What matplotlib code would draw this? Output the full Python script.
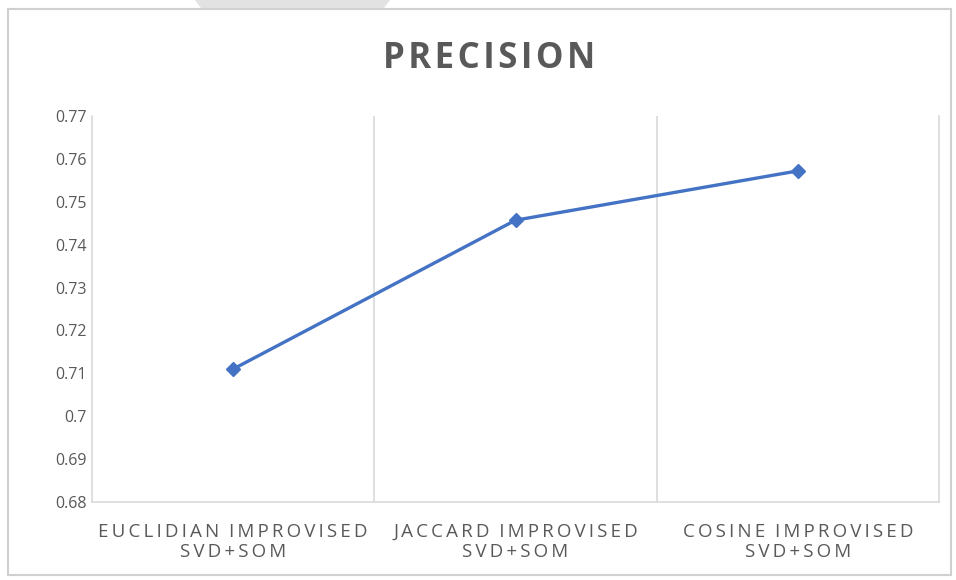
import matplotlib
matplotlib.use("Agg")
import matplotlib.pyplot as plt
from matplotlib.patches import Rectangle, Polygon

# Data
categories = ["EUCLIDIAN IMPROVISED\nSVD+SOM",
              "JACCARD IMPROVISED\nSVD+SOM",
              "COSINE IMPROVISED\nSVD+SOM"]
precision = [0.711, 0.7457, 0.7572]
y_ticks = [0.68, 0.69, 0.70, 0.71, 0.72, 0.73, 0.74, 0.75, 0.76, 0.77]
y_tick_labels = ["0.68", "0.69", "0.7", "0.71", "0.72", "0.73", "0.74", "0.75", "0.76", "0.77"]
title = "PRECISION"

W, H = 956, 580
fig = plt.figure(figsize=(W / 100, H / 100), dpi=100)
fig.patch.set_facecolor("white")

TXT = "#595959"
GRID = "#d9d9d9"
LINE = "#4472C4"
FONT = "Open Sans"


def spaced(s, gap="\u2009", word_gap=" "):
    """Letter-spaced text: a gap between glyphs of a word, word_gap between words."""
    out_lines = []
    for line in s.split("\n"):
        words = line.split(" ")
        out_lines.append(word_gap.join(gap.join(list(w)) for w in words))
    return "\n".join(out_lines)


# chart frame
fig.patches.append(Rectangle((8 / W, 1 - 575 / H), (951 - 8) / W, (575 - 9) / H,
                             transform=fig.transFigure, fill=False,
                             edgecolor="#d0d0d0", linewidth=1.5))
# shaded tab above the frame
fig.patches.append(Polygon([(195 / W, 1.0), (390 / W, 1.0), (384 / W, 1 - 8 / H), (201 / W, 1 - 8 / H)],
                           closed=True, transform=fig.transFigure,
                           facecolor="#e2e2e2", edgecolor="none"))

ax = fig.add_axes([92 / W, 1 - 502 / H, (939 - 92) / W, (502 - 116) / H])
x = list(range(len(categories)))
ax.plot(x, precision, color=LINE, linewidth=2.4, marker="D", markersize=7,
        markerfacecolor=LINE, markeredgecolor=LINE, zorder=3)

ax.set_xlim(-0.5, len(categories) - 0.5)
ax.set_ylim(y_ticks[0], y_ticks[-1])
ax.set_yticks(y_ticks)
ax.set_yticklabels(y_tick_labels, fontsize=11.5, color=TXT, family=FONT)
ax.set_xticks(x)
ax.set_xticklabels([spaced(c, "\u2009", "  ") for c in categories],
                   fontsize=13.5, color=TXT, family=FONT, linespacing=1.12)
ax.tick_params(axis="both", length=0)
ax.tick_params(axis="y", pad=4)
ax.tick_params(axis="x", pad=15)

# vertical gridlines between categories
for b in [i + 0.5 for i in x[:-1]]:
    ax.axvline(b, color=GRID, linewidth=1.2, zorder=1)

for side in ["left", "right", "bottom"]:
    ax.spines[side].set_color(GRID)
    ax.spines[side].set_linewidth(1.2)
ax.spines["top"].set_visible(False)

fig.text(489 / W, 1 - 59 / H, spaced(title, "\u200a"), fontsize=25, fontweight="bold",
         color=TXT, family=FONT, ha="center", va="center")

fig.savefig("out.png", dpi=100)
